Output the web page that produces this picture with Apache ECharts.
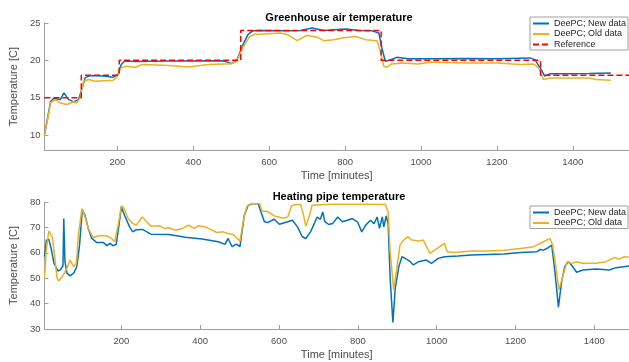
<!DOCTYPE html>
<html><head><meta charset="utf-8">
<script src="https://cdn.jsdelivr.net/npm/echarts@6/dist/echarts.min.js"></script>
<style>html,body{margin:0;padding:0;background:#fff}#c{width:629px;height:362px}</style>
</head><body><div id="c"></div>
<script>
const xTickValues = [200, 400, 600, 800, 1000, 1200, 1400];
const airTickValues = [10, 15, 20, 25];
const pipeTickValues = [30, 40, 50, 60, 70, 80];
const seriesNames = ['DeePC; New data', 'DeePC; Old data', 'Reference'];

const airNew = [[8,10.1],[16,12.2],[24,14.5],[32,14.9],[50,14.75],[59,15.65],[72,14.75],[85,14.45],[98,14.75],[106,16.1],[115,17.65],[128,17.96],[163,17.9],[189,17.75],[202,18.1],[210,19.4],[219,19.9],[249,19.85],[336,19.9],[475,19.95],[488,19.8],[501,19.56],[514,19.95],[531,22.1],[544,23.45],[557,23.97],[575,24.0],[648,23.97],[683,24.0],[713,24.33],[744,24.0],[770,24.1],[802,24.2],[837,24.0],[871,23.95],[889,23.66],[897,21.66],[906,19.88],[919,20.05],[936,20.4],[967,20.2],[1027,20.2],[1114,20.25],[1201,20.2],[1287,20.33],[1300,20.1],[1314,18.99],[1326,17.88],[1339,18.19],[1374,18.2],[1443,18.25],[1500,18.32]];
const airOld = [[8,10.0],[16,12.0],[24,14.3],[37,14.75],[50,14.3],[67,14.09],[85,14.45],[93,14.3],[102,14.98],[111,17.2],[124,17.43],[141,17.2],[189,17.35],[197,17.65],[210,18.99],[223,19.2],[249,19.08],[264,19.43],[336,19.3],[388,19.12],[440,19.43],[501,19.56],[514,19.88],[531,21.75],[549,23.2],[562,23.5],[575,23.5],[631,23.66],[648,23.43],[674,22.64],[687,23.0],[700,23.36],[726,23.1],[744,22.64],[770,22.77],[793,23.0],[828,23.2],[854,22.77],[884,22.64],[893,21.2],[902,19.2],[910,19.08],[923,19.52],[949,19.65],[993,19.52],[1027,19.79],[1114,19.65],[1201,19.65],[1261,19.43],[1296,19.52],[1310,19.0],[1323,17.43],[1339,17.65],[1374,17.65],[1443,17.65],[1461,17.43],[1500,17.34]];
const airRef = [[8,15],[105,15],[105,18],[205,18],[205,20],[525,20],[525,24],[895,24],[895,20],[1315,20],[1315,18],[1548,18]];

const pipeNew = [[5,58.45],[10,65],[16,65.4],[22,61.7],[29,55.9],[39,52.85],[45,53.2],[52,54.9],[54,73.5],[57,56.5],[62,52],[70,50.9],[79,52],[87,54.5],[94,63],[101,77],[108,74.8],[116,69.6],[125,65.65],[137,64.1],[154,64.1],[164,62.8],[171,63.7],[179,62.8],[187,63.3],[194,70.9],[200,78.05],[208,74.8],[221,70.2],[229,68.25],[238,69.1],[254,69.2],[275,67.35],[321,67.2],[363,66.15],[405,65.4],[446,64.35],[463,63.3],[471,65.65],[481,62.4],[492,63.4],[501,62.4],[505,61.7],[512,74.8],[522,78.7],[534,79.35],[547,79.35],[563,72.2],[572,71.95],[588,73.2],[601,71.25],[622,72.2],[634,72.8],[647,70.2],[659,66.3],[668,65.65],[680,68.25],[697,74.1],[705,73.2],[711,76.1],[716,72.4],[726,71.15],[736,71.5],[749,74.1],[761,72.2],[774,72.8],[786,73.5],[799,72.2],[810,68.25],[820,70.9],[832,72.8],[841,71.5],[849,74.1],[855,69.6],[862,74.1],[866,70.2],[872,74.5],[877,71.5],[882,50],[889,32.6],[895,46.1],[904,54.55],[912,58.45],[920,57.8],[933,56.5],[941,55.2],[954,56.5],[974,57.15],[987,55.85],[1004,57.8],[1020,58.45],[1054,58.7],[1087,59.1],[1129,59.35],[1171,59.5],[1213,60.15],[1254,60.4],[1263,61.3],[1271,61.05],[1283,62],[1292,63],[1300,52.6],[1309,38.6],[1317,48.65],[1325,54.55],[1334,56.5],[1342,55.2],[1355,52.35],[1371,53.25],[1405,53.6],[1438,53.25],[1455,54.15],[1488,54.8],[1500,54.9]];
const pipeOld = [[5,50],[10,61.7],[16,68.5],[25,66.3],[30,59.8],[37,50],[41,48.9],[50,50.6],[62,53.9],[70,57.15],[79,54.5],[86,55.9],[91,67],[100,77.4],[108,74.1],[116,69.6],[129,65.9],[142,66.7],[162,66.7],[175,65.65],[183,64.35],[192,70.9],[200,78.45],[206,77.7],[217,73.5],[229,71.55],[238,70.9],[253,74.1],[263,72.4],[275,70.5],[296,70.65],[309,69.6],[321,69.85],[338,68.9],[355,69.6],[371,70.9],[384,69.6],[396,70.65],[413,70.2],[430,68.9],[442,68],[459,68.25],[471,67.6],[484,67.2],[492,66],[501,64.6],[509,72.2],[518,78.05],[530,79.35],[551,79.35],[557,76.35],[568,76.35],[576,75.85],[588,74.5],[609,73.7],[622,74],[632,78.5],[643,79],[655,79],[662,75],[668,70.5],[676,74],[684,78.7],[716,79],[739,79.1],[770,79.1],[820,79.1],[870,79],[877,76.1],[882,60.4],[891,45.4],[899,53.9],[907,63],[916,65],[927,66.3],[937,65],[954,64.6],[966,65],[983,59.8],[995,61.05],[1020,63.7],[1027,60.4],[1045,60.15],[1087,60.7],[1129,60.7],[1171,61.05],[1213,61.7],[1246,62.4],[1271,64.35],[1288,65.65],[1294,63.3],[1303,53.9],[1310,45.4],[1321,51.3],[1331,56.5],[1342,55.85],[1355,56.5],[1371,55.85],[1405,55.85],[1430,56.5],[1451,58.2],[1463,57.5],[1476,58.45],[1488,58.2],[1500,58.3]];

const FONT = '"Liberation Sans", Arial, Helvetica, sans-serif';
const AXIS_COLOR = '#a0a0a0';
const TEXT_COLOR = '#4d4d4d';
const BLUE = '#0072BD', ORANGE = '#EDB120', RED = '#FF0000';

function xAxisCfg(gridIndex, min, max) {
  return {
    type: 'value', gridIndex, min, max,
    name: 'Time [minutes]', nameLocation: 'middle', nameGap: 20,
    nameTextStyle: { fontFamily: FONT, fontSize: 11, color: TEXT_COLOR },
    axisLine: { show: true, onZero: false, lineStyle: { color: AXIS_COLOR, width: 1 } },
    axisTick: { show: true, inside: true, length: 4, customValues: xTickValues, lineStyle: { color: AXIS_COLOR } },
    axisLabel: { customValues: xTickValues, margin: 7, fontFamily: FONT, fontSize: 9.5, color: TEXT_COLOR,
      formatter: v => String(v) },
    splitLine: { show: false }
  };
}
function yAxisCfg(gridIndex, min, max, ticks) {
  return {
    type: 'value', gridIndex, min, max,
    name: 'Temperature [C]', nameLocation: 'middle', nameGap: 19,
    nameTextStyle: { fontFamily: FONT, fontSize: 11, color: TEXT_COLOR },
    axisLine: { show: true, onZero: false, lineStyle: { color: AXIS_COLOR, width: 1 } },
    axisTick: { show: true, inside: true, length: 4, customValues: ticks, lineStyle: { color: AXIS_COLOR } },
    axisLabel: { customValues: ticks, margin: 4, fontFamily: FONT, fontSize: 9.5, color: TEXT_COLOR,
      formatter: v => String(v) },
    splitLine: { show: false }
  };
}
function lineSeries(name, data, color, xi, dashed) {
  return {
    name, type: 'line', data, xAxisIndex: xi, yAxisIndex: xi,
    symbol: 'none', showSymbol: false, animation: false, clip: true,
    lineStyle: { color, width: 1.5, type: dashed ? [6, 3] : 'solid' },
    itemStyle: { color }
  };
}
function legendCfg(top, names) {
  return {
    orient: 'vertical', left: 530, top, data: names,
    itemWidth: 16, itemHeight: 10, itemGap: 1.5,
    padding: [2, 2, 1, 2],
    backgroundColor: '#ffffff', borderColor: '#a0a0a0', borderWidth: 1, borderRadius: 0,
    itemStyle: { opacity: 0 },
    textStyle: { fontFamily: FONT, fontSize: 9, color: '#262626' },
    selectedMode: false
  };
}

const chart = echarts.init(document.getElementById('c'), null, { renderer: 'canvas' });
chart.setOption({
  animation: false,
  backgroundColor: '#ffffff',
  title: [
    { text: 'Greenhouse air temperature', left: 334, top: 7, textAlign: 'center',
      textStyle: { fontFamily: FONT, fontSize: 11, fontWeight: 'bold', color: '#000' } },
    { text: 'Heating pipe temperature', left: 334, top: 186, textAlign: 'center',
      textStyle: { fontFamily: FONT, fontSize: 11, fontWeight: 'bold', color: '#000' } }
  ],
  grid: [
    { left: 37, right: 0, top: 23, height: 127 },
    { left: 37, right: 0, top: 202, height: 127 }
  ],
  xAxis: [ xAxisCfg(0, 8, 1548), xAxisCfg(1, 5, 1488) ],
  yAxis: [ yAxisCfg(0, 8, 25, airTickValues), yAxisCfg(1, 30, 80, pipeTickValues) ],
  legend: [ legendCfg(17, seriesNames), legendCfg(206, seriesNames.slice(0, 2)) ],
  series: [
    lineSeries(seriesNames[0], airNew, BLUE, 0, false),
    lineSeries(seriesNames[1], airOld, ORANGE, 0, false),
    lineSeries(seriesNames[2], airRef, RED, 0, true),
    lineSeries(seriesNames[0], pipeNew, BLUE, 1, false),
    lineSeries(seriesNames[1], pipeOld, ORANGE, 1, false)
  ]
});
</script>
</body></html>
